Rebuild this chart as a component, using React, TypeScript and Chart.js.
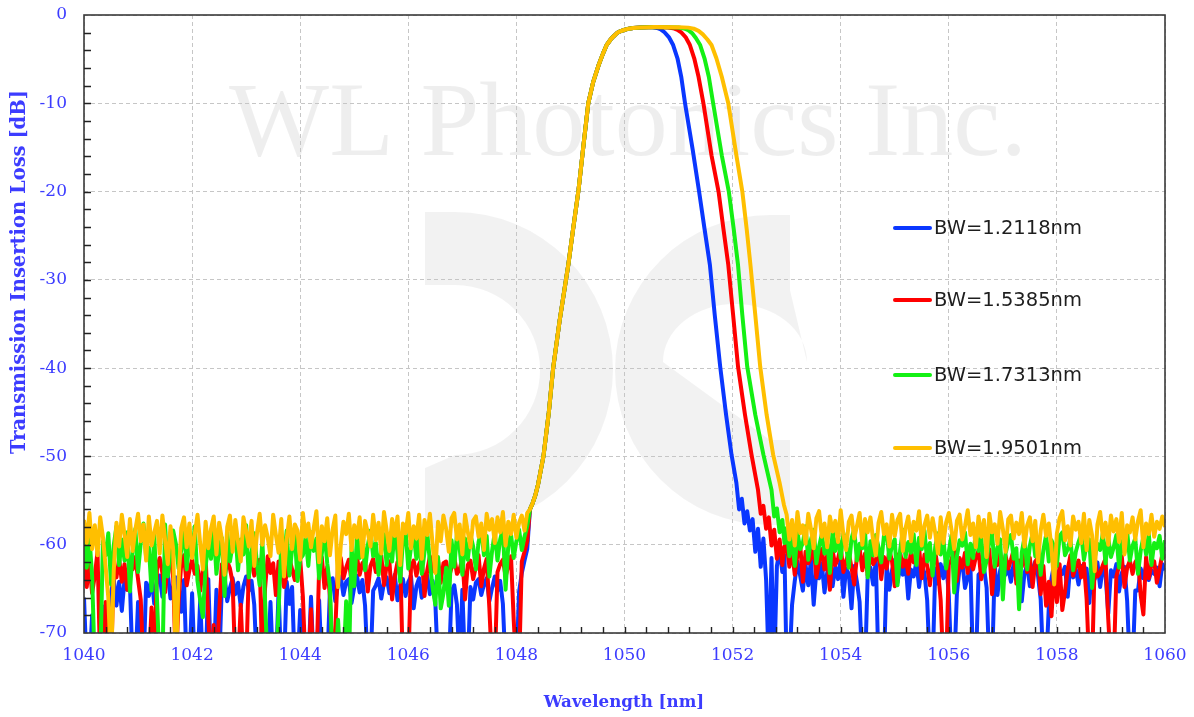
import React, { useEffect, useRef } from 'react';
import { Chart, registerables } from 'chart.js';

Chart.register(...registerables);

// ---------- axis ----------
const X_MIN = 1040;
const X_MAX = 1060;
const Y_MIN = -70;
const Y_MAX = 0;
const X_STEP = 2;
const Y_STEP = 10;
const xTickValues = [1040, 1042, 1044, 1046, 1048, 1050, 1052, 1054, 1056, 1058, 1060];
const yTickValues = [0, -10, -20, -30, -40, -50, -60, -70];

// ---------- series ----------
const seriesLabels = ['BW=1.2118nm', 'BW=1.5385nm', 'BW=1.7313nm', 'BW=1.9501nm'];
const seriesColors = ['#0a37ff', '#ff0000', '#14f014', '#ffbf00'];

// noise floor sampling
const NOISE_STEP = 0.05;
const LEFT_NOISE_START = 1040.0;
const RIGHT_NOISE_START = 1053.0;

// shared rising edge [wavelength nm, dB]
const risingEdge: [number, number][] = [
  [1048.25, -56.0], [1048.3, -55.3], [1048.35, -54.4], [1048.4, -53.2], [1048.5, -50.0],
  [1048.6, -45.0], [1048.68, -40.0], [1048.8, -34.6], [1048.96, -28.3], [1049.05, -24.2],
  [1049.15, -19.8], [1049.24, -14.8], [1049.33, -10.0], [1049.42, -7.6], [1049.52, -5.7],
  [1049.6, -4.4], [1049.67, -3.4], [1049.74, -2.8], [1049.8, -2.4], [1049.86, -2.05],
  [1049.92, -1.85], [1049.99, -1.7], [1050.08, -1.55], [1050.16, -1.47], [1050.3, -1.41],
  [1050.45, -1.38],
];

// falling edges
const blueFalling: [number, number][] = [
  [1050.52, -1.4], [1050.6, -1.47], [1050.67, -1.62], [1050.74, -1.95], [1050.82, -2.5],
  [1050.9, -3.4], [1050.98, -4.9], [1051.05, -7.0], [1051.12, -10.0], [1051.26, -15.2],
  [1051.38, -20.0], [1051.48, -24.2], [1051.58, -28.3], [1051.67, -34.0], [1051.77, -39.8],
  [1051.88, -45.3], [1051.98, -49.8], [1052.07, -53.0], [1052.12, -56.0], [1052.17, -54.8],
  [1052.22, -57.6], [1052.27, -56.2], [1052.32, -58.4], [1052.37, -57.1], [1052.42, -60.8],
  [1052.47, -58.2], [1052.52, -62.5], [1052.57, -59.3], [1052.62, -64.0], [1052.67, -74.0],
  [1052.72, -61.5], [1052.77, -74.0], [1052.82, -62.4], [1052.87, -60.6], [1052.92, -63.1],
  [1052.96, -61.2],
];
const redFalling: [number, number][] = [
  [1050.55, -1.38], [1050.8, -1.42], [1050.9, -1.5], [1050.98, -1.68], [1051.05, -1.98],
  [1051.13, -2.5], [1051.21, -3.4], [1051.29, -4.9], [1051.37, -7.0], [1051.46, -10.0],
  [1051.61, -15.9], [1051.74, -20.0], [1051.83, -24.2], [1051.92, -28.3], [1052.01, -34.0],
  [1052.1, -39.8], [1052.23, -45.3], [1052.35, -49.8], [1052.47, -53.8], [1052.52, -56.5],
  [1052.57, -55.6], [1052.62, -58.2], [1052.67, -56.9], [1052.72, -60.1], [1052.77, -58.3],
  [1052.82, -61.6], [1052.87, -59.4], [1052.92, -62.3], [1052.96, -60.2],
];
const greenFalling: [number, number][] = [
  [1050.55, -1.37], [1051.0, -1.42], [1051.1, -1.52], [1051.18, -1.72], [1051.25, -2.05],
  [1051.32, -2.6], [1051.4, -3.4], [1051.48, -4.9], [1051.56, -7.0], [1051.64, -10.0],
  [1051.8, -15.9], [1051.93, -20.0], [1052.02, -24.2], [1052.1, -28.3], [1052.18, -34.0],
  [1052.27, -39.8], [1052.42, -45.3], [1052.57, -49.8], [1052.72, -53.8], [1052.77, -56.8],
  [1052.82, -55.9], [1052.87, -58.6], [1052.92, -57.2], [1052.96, -59.8],
];
const orangeFalling: [number, number][] = [
  [1050.55, -1.37], [1051.0, -1.38], [1051.18, -1.43], [1051.28, -1.55], [1051.37, -1.8],
  [1051.45, -2.2], [1051.53, -2.75], [1051.61, -3.4], [1051.7, -4.9], [1051.8, -7.0],
  [1051.92, -10.0], [1052.07, -15.9], [1052.18, -20.0], [1052.26, -24.2], [1052.33, -28.3],
  [1052.42, -34.0], [1052.51, -39.8], [1052.63, -45.3], [1052.75, -49.8], [1052.87, -53.0],
  [1052.95, -55.5],
];

// noise floor 1040.00 .. 1048.20 nm (0.05 nm); -74 = below the axis floor
const blueLeft = [
  -66, -74, -74, -68, -74, -74, -74, -67, -74, -74,
  -65.5, -63.8, -66.9, -64.2, -67.5, -63.9, -65.1, -64.5, -74, -74,
  -66.5, -74, -74, -64.3, -65.8, -63.6, -66.7, -64.1, -63.5, -65.9,
  -64.4, -63.2, -66.1, -64.8, -63.7, -65.3, -67.6, -64, -74, -74,
  -65.5, -74, -74, -66.2, -74, -74, -63.9, -74, -74, -65.1,
  -74, -64.6, -63.5, -66.4, -64.9, -63.8, -65.6, -64.3, -67, -64.7,
  -63.6, -65.2, -64.1, -66.8, -74, -74, -68.2, -74, -74, -66.5,
  -74, -74, -65.3, -74, -74, -64.2, -66.7, -64.8, -74, -74,
  -67.4, -74, -74, -74, -65.9, -74, -74, -66.3, -74, -74,
  -74, -65.1, -63.8, -66.4, -64.5, -63.6, -65.7, -64.2, -63.9, -66.6,
  -64.8, -63.5, -65.4, -64, -66.9, -74, -74, -65.2, -64.6, -63.8,
  -66.1, -64.3, -63.7, -65.5, -64.9, -63.4, -66.3, -64.6, -63.9, -65.8,
  -64.2, -63.6, -67.2, -64.7, -63.8, -66, -64.4, -63.5, -65.6, -64.1,
  -66.5, -74, -74, -74, -74, -74, -65.3, -64.6, -66.8, -74,
  -65.1, -74, -74, -64.8, -66.2, -64.3, -63.9, -65.7, -64.5, -63.8,
  -66.4, -64.9, -63.6, -65.2, -64.1, -66.7, -74, -74, -74, -74,
  -74, -65.3, -63.2, -61.8, -60.5,
];
const redLeft = [
  -61.3, -64.8, -62, -65.5, -63.5, -60.8, -74, -74, -66.5, -74,
  -74, -62.4, -63.7, -61.6, -64.2, -62.2, -65.1, -61.9, -62.8, -61.4,
  -63.9, -66.2, -74, -74, -74, -67.1, -74, -62.7, -61.5, -63.2,
  -65.4, -62, -61.3, -63.8, -74, -66.4, -62.1, -61.2, -64.6, -62.9,
  -61.7, -63.3, -62.4, -65.2, -62.8, -61.5, -68.4, -74, -69.1, -74,
  -67.7, -62.2, -63.6, -61.9, -62.7, -64.3, -74, -74, -66.8, -74,
  -74, -62.6, -61.8, -63.5, -62.3, -61.7, -74, -64.9, -61.3, -63.2,
  -62.1, -65.7, -61.9, -62.6, -64.8, -63.4, -61.5, -62.8, -64, -62.2,
  -61.6, -65.9, -74, -74, -67.3, -74, -74, -62.7, -61.4, -64.9,
  -62.5, -65.8, -74, -69.5, -62.2, -61.5, -63.8, -62.6, -61.7, -64.2,
  -62.9, -61.3, -63.4, -62.1, -61.8, -65.3, -62.4, -61.6, -63.1, -62.8,
  -61.2, -64.6, -62.3, -61.9, -66.2, -63.6, -62, -61.5, -74, -74,
  -74, -62.5, -61.8, -63.5, -62.2, -61.6, -65.8, -62.9, -61.3, -63,
  -62.4, -61.7, -64.3, -62.1, -61.9, -63.7, -62.6, -61.4, -63.3, -62.8,
  -61.5, -66.2, -62.3, -61.8, -63.9, -62.5, -61.2, -64.7, -62.7, -61.6,
  -67.2, -74, -74, -63.1, -62.2, -61.7, -63.6, -62.4, -61.3, -68.5,
  -74, -74, -61.9, -60.8, -59.6,
];
const greenLeft = [
  -58.3, -62.6, -59.1, -63.5, -74, -74, -74, -59.6, -61.2, -58.7,
  -64.5, -60.1, -57.9, -62.3, -59.4, -61.8, -58.6, -65.3, -60.7, -58.2,
  -63.1, -59.8, -57.6, -61.5, -60.3, -65.2, -58.9, -66.1, -74, -74,
  -57.7, -63.6, -61, -58.4, -59.9, -62.7, -60.5, -58.1, -62.8, -59.5,
  -61.3, -57.9, -64.1, -66.3, -68.2, -62.5, -59.7, -61.6, -58.3, -63.3,
  -60.6, -59.2, -65.8, -58.6, -61.9, -60, -58.5, -62.9, -59.4, -61.1,
  -57.8, -63.7, -60.9, -58.7, -62.2, -64.6, -59.6, -66.4, -74, -74,
  -74, -74, -67.5, -59.8, -61.7, -58.4, -63.5, -60.5, -58.8, -64.1,
  -61.6, -61.2, -59.1, -62.4, -58.6, -60.7, -59.3, -63.8, -61, -58.5,
  -62.1, -64.7, -74, -74, -68.5, -74, -74, -66.4, -74, -60.2,
  -64.7, -59.2, -61.5, -58.7, -62.9, -60.1, -58.4, -61.3, -59.8, -63.4,
  -60.6, -58.8, -62.3, -59.4, -61.9, -58.1, -60.9, -64.2, -59.6, -58.5,
  -62.7, -60.3, -58.9, -61.6, -59.1, -63.3, -60.8, -58.6, -62, -64.9,
  -66.8, -61.4, -67.2, -65.5, -62.6, -66.9, -59.5, -62.5, -58.8, -60.4,
  -63.4, -59.3, -61.7, -58.9, -60.2, -62.8, -59.7, -58.4, -61.2, -59,
  -63.6, -60.7, -58.6, -61.8, -59.4, -58.2, -65.1, -60.1, -58.8, -61.5,
  -59.6, -58.3, -60.6, -59.1, -57.9,
];
const orangeLeft = [
  -57.2, -59.8, -56.4, -60.5, -57.8, -61.2, -56.9, -59.1, -62.5, -66,
  -74, -63, -57.5, -60.2, -56.6, -58.9, -61.4, -57.1, -60.7, -58.3,
  -56.5, -59.6, -57.7, -61.8, -56.8, -60.1, -58.6, -57.3, -61, -56.7,
  -59.4, -62.2, -57.9, -60.6, -74, -64, -58.1, -56.9, -60.3, -57.6,
  -61.5, -58.8, -56.6, -59.9, -62.8, -57.4, -60.4, -58.2, -56.8, -61.1,
  -57.5, -59.3, -63.4, -58, -56.7, -60.8, -57.2, -59.7, -61.9, -56.9,
  -58.5, -60.2, -57.3, -62.4, -58.7, -56.5, -60, -57.8, -59.2, -61.3,
  -56.6, -58.9, -60.9, -57.1, -63.6, -59.4, -56.8, -60.5, -57.7, -58.4,
  -61.7, -56.4, -59.1, -57.6, -60.3, -58.1, -56.2, -62, -57.9, -59.6,
  -57, -61.2, -58.3, -56.7, -64.8, -60.1, -57.4, -58.8, -56.5, -60.6,
  -57.8, -59.2, -56.9, -61.4, -57.3, -58.6, -60.2, -56.6, -59.5, -57.5,
  -61, -56.3, -58.4, -60.7, -57.1, -59, -56.8, -62.3, -57.6, -58.7,
  -56.4, -60.4, -57.9, -59.3, -56.6, -61.6, -57.2, -58.9, -56.5, -60,
  -63.2, -57.4, -59.6, -56.7, -58.2, -60.8, -57, -56.4, -59.4, -57.7,
  -61.1, -56.6, -58.5, -60.3, -57.3, -56.8, -59.1, -57.6, -60.6, -56.5,
  -58.3, -57.1, -59.8, -56.9, -58.6, -56.3, -60.1, -57.4, -58.8, -56.6,
  -59.2, -57.5, -56.7, -58.4, -56.4,
];

// noise floor 1053.00 .. 1060.00 nm (0.05 nm)
const blueRight = [
  -74, -74, -66.8, -64.1, -61.9, -63.5, -65.2, -62.3, -64.6, -61.7,
  -66.8, -62.9, -63.8, -62.1, -65.4, -63.2, -61.8, -64.7, -62.5, -63.9,
  -61.6, -65.9, -62.7, -63.3, -67.2, -62.4, -64.2, -66.5, -74, -74,
  -63.4, -62.6, -64.5, -61.8, -74, -74, -74, -62.3, -65.1, -62.9,
  -61.7, -64.3, -62.5, -63.4, -62, -66.1, -62.8, -63.6, -61.9, -64.8,
  -62.4, -63.2, -66.3, -74, -74, -62.7, -64.4, -62.2, -63.8, -61.8,
  -65.7, -74, -74, -65.5, -62.6, -61.9, -64.9, -63.7, -62.3, -74,
  -74, -63.4, -63.1, -62.5, -64.9, -74, -74, -62.4, -65.7, -62.9,
  -61.8, -63.4, -62.6, -64.2, -62.1, -63.9, -62.7, -66.4, -63.2, -62.3,
  -64.7, -62.8, -61.9, -63.5, -66.2, -74, -74, -67.1, -63.8, -62.2,
  -64.1, -62.9, -63.3, -62.5, -65.9, -62.1, -63.7, -62.8, -64.5, -62.4,
  -63.1, -62.7, -66.6, -62.3, -63.9, -62, -64.8, -62.6, -63.4, -67.8,
  -62.9, -63.6, -62.2, -65.3, -63.2, -62.5, -66.4, -74, -74, -65.2,
  -65.2, -62.7, -63.8, -62.4, -64, -62.9, -63.3, -62.6, -64.7, -62.2,
  -62.9,
];
const redRight = [
  -59.8, -62.5, -60.6, -63.4, -61.1, -59.9, -64.2, -60.8, -62.1, -61.5,
  -60.3, -63.7, -61.9, -60.5, -62.8, -61.2, -65.1, -60.7, -62.3, -61.6,
  -60.2, -63.1, -61.8, -60.9, -62.6, -64.5, -61.3, -60.4, -62.9, -61,
  -63.5, -60.8, -62.2, -61.7, -60.5, -63.9, -61.4, -62.7, -60.6, -61.9,
  -64.7, -61.2, -60.9, -62.5, -61.5, -63.3, -60.7, -62, -61.6, -60.3,
  -63.8, -61.1, -62.4, -64.6, -61.8, -60.8, -62.9, -66.3, -74, -74,
  -62.2, -61.7, -60.4, -64.1, -61.5, -62.6, -60.9, -63.2, -61, -62.8,
  -61.4, -60.7, -63.9, -62.1, -61.6, -60.5, -65.6, -61.9, -62.3, -60.8,
  -63.4, -61.2, -62.7, -61.7, -60.6, -64.4, -61.8, -62.5, -61.1, -63.1,
  -61.5, -64.8, -62, -61.3, -65.6, -62.4, -66.9, -64.2, -68.1, -62.6,
  -66.5, -62.2, -67.4, -65.3, -62.8, -61.2, -63.5, -62.5, -61.8, -63.7,
  -62.1, -66.2, -74, -74, -61.7, -63.6, -63.2, -62.3, -61.6, -68.4,
  -74, -74, -63.6, -62.4, -61.3, -64.8, -62.6, -61.8, -63.3, -62,
  -61.5, -65.7, -67.9, -61.4, -63.8, -62.2, -61.9, -64.3, -62.7, -61.1,
  -61.6,
];
const greenRight = [
  -58.1, -61.3, -59.2, -62.4, -58.6, -60.5, -59.8, -57.9, -61.7, -59.4,
  -58.3, -62.1, -60.2, -58.8, -61, -59.5, -63.2, -58.4, -60.7, -59.1,
  -61.5, -58.7, -60, -62.6, -59.3, -58.2, -61.8, -59.9, -60.4, -58.5,
  -63.7, -59.6, -61.2, -58.9, -60.3, -62, -59, -58.6, -61.6, -60.1,
  -59.4, -64.6, -60.6, -58.3, -61.4, -59.7, -60.9, -58.8, -62.3, -59.2,
  -60.5, -58.4, -61.9, -59.8, -63.5, -60.2, -58.7, -61.1, -59.3, -62.7,
  -60.8, -58.9, -65.4, -61.3, -59.5, -60.1, -58.6, -62.2, -59.9, -61.5,
  -58.5, -60.7, -59.1, -63.1, -61.8, -59.6, -58.8, -62.5, -60.3, -59.4,
  -66.2, -61, -59.7, -58.9, -61.6, -60.4, -67.3, -60.9, -59.2, -62.8,
  -60.1, -58.7, -61.3, -59.8, -63.4, -60.6, -58.9, -61.9, -59.5, -60.2,
  -62.4, -59, -58.6, -61.2, -60.5, -59.3, -62.9, -60.8, -59.7, -58.8,
  -61.7, -60, -59.4, -64.9, -61.5, -59.9, -60.6, -58.7, -62.1, -59.2,
  -61.4, -60.3, -58.9, -62.6, -59.6, -60.9, -58.5, -61.8, -60.1, -59.3,
  -63.3, -60.7, -59.1, -61.1, -58.8, -62.3, -59.8, -60.4, -59, -61.6,
  -59.5,
];
const orangeRight = [
  -56.6, -59.4, -57.2, -60.1, -56.3, -58.7, -57.8, -59.9, -56.5, -58.2,
  -60.4, -57, -56.2, -59.1, -57.6, -60.3, -56.8, -58.5, -57.3, -59.7,
  -56.1, -58.9, -60.6, -57.4, -56.7, -59.3, -57.9, -56.4, -60, -57.1,
  -58.6, -56.9, -59.5, -61.2, -57.5, -56.3, -58.8, -57.7, -60.2, -56.6,
  -59, -57.2, -56.5, -60.7, -58.1, -56.8, -59.6, -57.4, -58.4, -56.2,
  -60.1, -57.8, -56.7, -59.2, -57, -58.7, -61, -56.9, -59.8, -57.5,
  -56.4, -58.3, -60.5, -57.3, -56.6, -59.4, -57.9, -56.1, -58.9, -57.6,
  -60.3, -56.8, -59.1, -57.2, -61.4, -56.5, -58.6, -57.7, -59.9, -56.3,
  -58.2, -60.8, -57.1, -56.7, -59.3, -57.5, -58.8, -56.4, -60.2, -57.8,
  -56.9, -59.6, -57.3, -62, -58.4, -56.6, -59, -57.6, -60.4, -64.5,
  -58.7, -57, -56.2, -59.5, -57.9, -60.1, -56.8, -58.3, -57.4, -59.8,
  -56.5, -60.6, -57.2, -58.9, -63, -57.7, -56.3, -59.2, -57.5, -60,
  -56.7, -58.5, -57.1, -59.7, -56.4, -61.1, -57.8, -58.6, -56.9, -59.4,
  -57.3, -56.1, -60.3, -57.6, -58.8, -56.6, -59.1, -57.4, -58.2, -56.8,
  -58,
];

const seriesParts = [
  { left: blueLeft, falling: blueFalling, right: blueRight },
  { left: redLeft, falling: redFalling, right: redRight },
  { left: greenLeft, falling: greenFalling, right: greenRight },
  { left: orangeLeft, falling: orangeFalling, right: orangeRight },
];

const BLUE_TEXT = '#3c3cff';

function buildPoints(left: number[], falling: [number, number][], right: number[]) {
  const pts: { x: number; y: number }[] = [];
  left.forEach((v, i) => pts.push({ x: +(LEFT_NOISE_START + i * NOISE_STEP).toFixed(3), y: v }));
  risingEdge.forEach(([x, y]) => pts.push({ x, y }));
  falling.forEach(([x, y]) => pts.push({ x, y }));
  right.forEach((v, i) => pts.push({ x: +(RIGHT_NOISE_START + i * NOISE_STEP).toFixed(3), y: v }));
  return pts;
}

const decorPlugin = {
  id: 'decor',
  beforeDraw(chart: any) {
    const { ctx } = chart;
    ctx.save();
    // logo watermark
    ctx.fillStyle = 'rgba(0,0,0,0.05)';
    ctx.beginPath();
    ctx.arc(455, 370, 158, -Math.PI / 2, Math.PI / 2, false);
    ctx.lineTo(425, 528);
    ctx.lineTo(425, 468);
    ctx.lineTo(455, 455);
    ctx.arc(455, 370, 85, Math.PI / 2, -Math.PI / 2, true);
    ctx.lineTo(425, 285);
    ctx.lineTo(425, 212);
    ctx.closePath();
    ctx.fill();
    ctx.beginPath();
    ctx.arc(770, 370, 155, -Math.PI / 2, Math.PI / 2, true);
    ctx.lineTo(790, 525);
    ctx.lineTo(790, 440);
    ctx.lineTo(770, 440);
    ctx.ellipse(735, 362, 58, 72, Math.PI / 2, Math.PI / 2, -Math.PI / 2, false);
    ctx.lineTo(790, 290);
    ctx.lineTo(790, 215);
    ctx.closePath();
    ctx.fill();
    // text watermark
    ctx.fillStyle = 'rgba(0,0,0,0.065)';
    ctx.font = '106px "Liberation Serif"';
    ctx.textAlign = 'center';
    ctx.textBaseline = 'alphabetic';
    ctx.fillText('WL Photonics Inc.', 628, 155);
    ctx.restore();
  },
  afterDraw(chart: any) {
    const { ctx, chartArea: a, scales } = chart;
    const xs = scales.x;
    const ys = scales.y;
    ctx.save();
    // frame
    ctx.strokeStyle = '#3a3a3a';
    ctx.lineWidth = 1.6;
    ctx.strokeRect(a.left, a.top, a.right - a.left, a.bottom - a.top);
    // minor ticks
    ctx.strokeStyle = '#222';
    ctx.lineWidth = 1.4;
    ctx.beginPath();
    for (let v = Y_MIN + 2; v < Y_MAX; v += 2) {
      const y = Math.round(ys.getPixelForValue(v)) + 0.5;
      ctx.moveTo(a.left, y);
      ctx.lineTo(a.left + 7, y);
    }
    for (let k = 1; k < 50; k++) {
      const x = Math.round(xs.getPixelForValue(X_MIN + k * 0.4)) + 0.5;
      ctx.moveTo(x, a.bottom);
      ctx.lineTo(x, a.bottom - 6);
    }
    ctx.stroke();
    // tick labels
    ctx.fillStyle = BLUE_TEXT;
    ctx.font = '17px "DejaVu Serif"';
    ctx.textBaseline = 'middle';
    ctx.textAlign = 'right';
    yTickValues.forEach((v) => ctx.fillText(String(v), a.left - 17, ys.getPixelForValue(v)));
    ctx.textAlign = 'center';
    xTickValues.forEach((v) => ctx.fillText(String(v), xs.getPixelForValue(v), a.bottom + 23));
    // legend
    const rows = [228, 300, 375, 448];
    seriesLabels.forEach((lab, i) => {
      ctx.strokeStyle = seriesColors[i];
      ctx.lineWidth = 4;
      ctx.lineCap = 'round';
      ctx.beginPath();
      ctx.moveTo(895, rows[i]);
      ctx.lineTo(930, rows[i]);
      ctx.stroke();
      ctx.fillStyle = '#1e1e1e';
      ctx.font = '19.5px "DejaVu Sans"';
      ctx.textAlign = 'left';
      ctx.textBaseline = 'middle';
      ctx.fillText(lab, 934, rows[i] + 1);
    });
    // axis titles
    ctx.fillStyle = BLUE_TEXT;
    ctx.textAlign = 'center';
    ctx.textBaseline = 'middle';
    ctx.font = 'bold 16.7px "DejaVu Serif"';
    ctx.fillText('Wavelength [nm]', 624, 703);
    ctx.translate(20, 272);
    ctx.rotate(-Math.PI / 2);
    ctx.font = 'bold 19.5px "DejaVu Serif"';
    ctx.fillText('Transmission Insertion Loss [dB]', 0, 0);
    ctx.restore();
  },
};

export default function App() {
  const ref = useRef<HTMLCanvasElement | null>(null);
  useEffect(() => {
    if (!ref.current) return;
    const datasets = seriesParts.map((p, i) => ({
      label: seriesLabels[i],
      data: buildPoints(p.left, p.falling, p.right),
      borderColor: seriesColors[i],
      backgroundColor: seriesColors[i],
      borderWidth: 4,
      pointRadius: 0,
      tension: 0,
      borderJoinStyle: 'round' as const,
      fill: false,
      clip: 0,
      order: 4 - i,
    }));
    const chart = new Chart(ref.current, {
      type: 'line',
      data: { datasets },
      options: {
        animation: false,
        responsive: false,
        maintainAspectRatio: false,
        parsing: false,
        layout: { padding: { left: 0, top: 15, right: 29, bottom: 0 } },
        plugins: { legend: { display: false }, tooltip: { enabled: false }, title: { display: false } },
        scales: {
          x: {
            type: 'linear',
            min: X_MIN,
            max: X_MAX,
            afterFit: (s: any) => { s.height = 84; },
            ticks: { stepSize: X_STEP, display: false },
            grid: { color: '#c6c6c6', lineWidth: 1, drawTicks: false },
            border: { display: false, dash: [4, 3] },
          },
          y: {
            type: 'linear',
            min: Y_MIN,
            max: Y_MAX,
            afterFit: (s: any) => { s.width = 84; },
            ticks: { stepSize: Y_STEP, display: false },
            grid: { color: '#c6c6c6', lineWidth: 1, drawTicks: false },
            border: { display: false, dash: [4, 3] },
          },
        },
      },
      plugins: [decorPlugin],
    });
    return () => chart.destroy();
  }, []);
  return (
    <div style={{ position: 'fixed', left: 0, top: 0, width: 1194, height: 717, background: '#fff' }}>
      <canvas ref={ref} width={1194} height={717} style={{ width: 1194, height: 717 }} />
    </div>
  );
}
